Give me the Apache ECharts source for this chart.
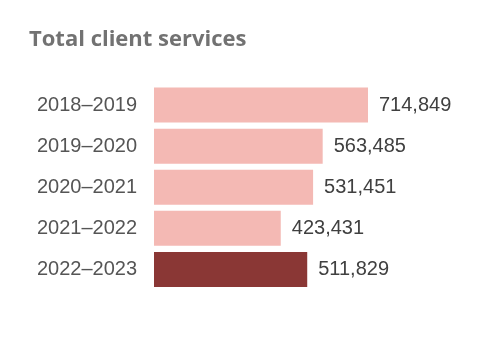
<!DOCTYPE html>
<html><head><meta charset="utf-8">
<script src="https://cdn.jsdelivr.net/npm/echarts@6/dist/echarts.min.js"></script>
<style>html,body{margin:0;padding:0;background:#fff}#c{width:480px;height:345px}</style>
</head><body><div id="c"></div>
<script>
var categories = ['2018–2019','2019–2020','2020–2021','2021–2022','2022–2023'];
var values = [714849, 563485, 531451, 423431, 511829];
var colors = ['#f4b9b4','#f4b9b4','#f4b9b4','#f4b9b4','#8a3735'];
var chart = echarts.init(document.getElementById('c'));
chart.setOption({
  animation: false,
  title: { text: 'Total client services', left: 24, top: 24,
    textStyle: { fontFamily: 'Open Sans', fontWeight: 'bold', fontSize: 22, color: '#727272' } },
  grid: { left: 154, top: 84.5, width: 214, height: 205.5 },
  xAxis: { type: 'value', min: 0, max: 714849, show: false },
  yAxis: { type: 'category', data: categories, inverse: true,
    axisLine: { show: false }, axisTick: { show: false },
    axisLabel: { margin: 17, fontFamily: 'Liberation Sans', fontSize: 20, color: '#555555' } },
  series: [{
    type: 'bar', barWidth: 35,
    data: values.map(function(v, i){ return { value: v, itemStyle: { color: colors[i] } }; }),
    label: { show: true, position: 'right', distance: 11, fontFamily: 'Liberation Sans', fontSize: 20, color: '#404040',
      formatter: function(p){ return p.value.toLocaleString('en-US'); } }
  }]
});
</script></body></html>
